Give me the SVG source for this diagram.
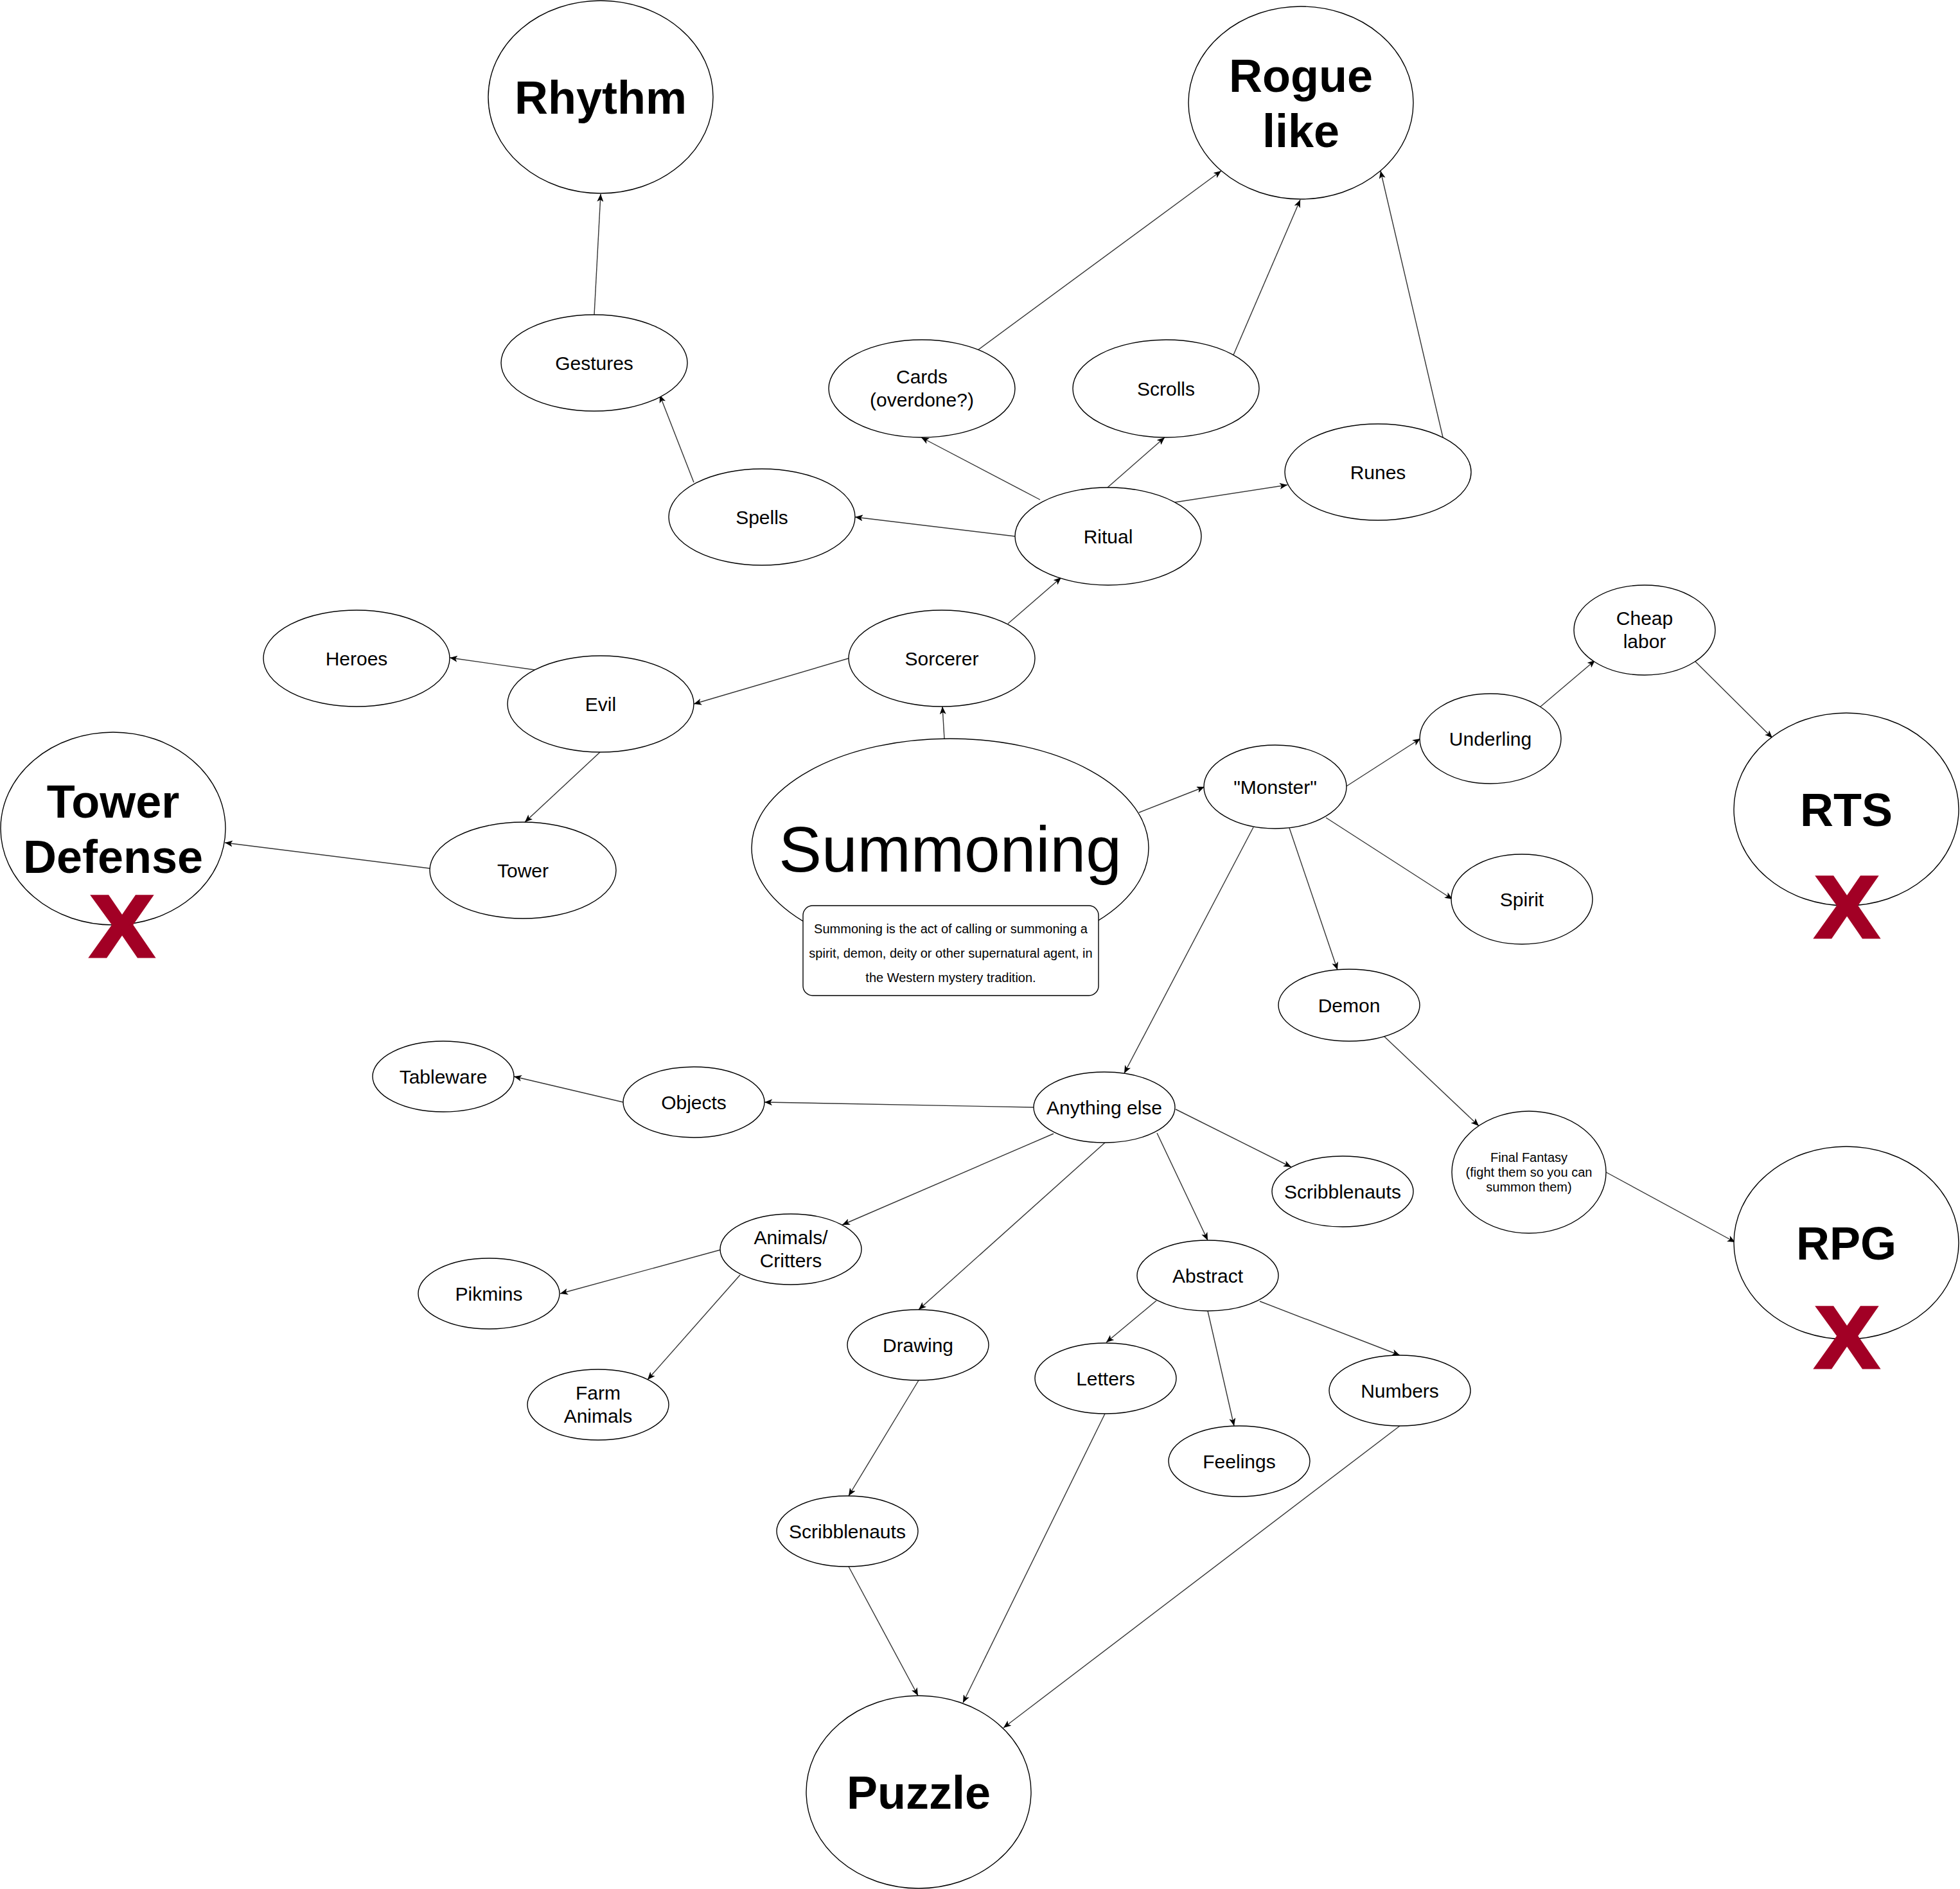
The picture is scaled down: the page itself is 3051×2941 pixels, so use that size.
<svg xmlns="http://www.w3.org/2000/svg" width="3051" height="2941" viewBox="0 0 3051 2941">
<style>
  .n { fill: #ffffff; stroke: #000000; stroke-width: 1.4; }
  .e { stroke: #333333; stroke-width: 1.4; fill: none; marker-end: url(#arr); }
  text { font-family: "Liberation Sans", Arial, Helvetica, sans-serif; fill: #000000; text-anchor: middle; }
  .t30 { font-size: 30px; }
  .t20 { font-size: 20px; }
  .big { font-size: 72px; font-weight: bold; }
  .huge { font-size: 100px; }
  .x { font-size: 136px; font-weight: bold; fill: #A20025; stroke: #A20025; stroke-width: 5; }
</style>
<defs>
  <marker id="arr" viewBox="0 0 12 10" refX="12" refY="5" markerWidth="12" markerHeight="10" markerUnits="userSpaceOnUse" orient="auto">
    <path d="M0,0 L12,5 L0,10 L3,5 Z" fill="#000000"/>
  </marker>
</defs>
<rect x="0" y="0" width="3051" height="2941" fill="#ffffff"/>

<g id="connectors">
  <line class="e" x1="925" y1="490" x2="935" y2="302"/>
  <line class="e" x1="1080" y1="751" x2="1027" y2="615"/>
  <line class="e" x1="1580" y1="835" x2="1331" y2="805"/>
  <line class="e" x1="1619" y1="778" x2="1434" y2="681"/>
  <line class="e" x1="1724" y1="759" x2="1813" y2="681"/>
  <line class="e" x1="1829" y1="782" x2="2004" y2="755"/>
  <line class="e" x1="1522" y1="545" x2="1901" y2="266"/>
  <line class="e" x1="1919" y1="555" x2="2024" y2="311"/>
  <line class="e" x1="2247" y1="685" x2="2149" y2="266"/>
  <line class="e" x1="1569" y1="971" x2="1652" y2="899"/>
  <line class="e" x1="1470" y1="1150" x2="1467" y2="1100"/>
  <line class="e" x1="1321" y1="1025" x2="1080" y2="1096"/>
  <line class="e" x1="833" y1="1043" x2="700" y2="1024"/>
  <line class="e" x1="934" y1="1171" x2="817" y2="1280"/>
  <line class="e" x1="669" y1="1352" x2="350" y2="1312"/>
  <line class="e" x1="1773" y1="1265" x2="1875" y2="1225"/>
  <line class="e" x1="2096" y1="1224" x2="2211" y2="1150"/>
  <line class="e" x1="2397" y1="1101" x2="2483" y2="1028"/>
  <line class="e" x1="2639" y1="1030" x2="2759" y2="1149"/>
  <line class="e" x1="2064" y1="1273" x2="2261" y2="1400"/>
  <line class="e" x1="2007" y1="1289" x2="2082" y2="1510"/>
  <line class="e" x1="1951" y1="1288" x2="1750" y2="1671"/>
  <line class="e" x1="2154" y1="1613" x2="2302" y2="1753"/>
  <line class="e" x1="2500" y1="1825" x2="2701" y2="1934"/>
  <line class="e" x1="1609" y1="1724" x2="1190" y2="1716"/>
  <line class="e" x1="970" y1="1716" x2="800" y2="1676"/>
  <line class="e" x1="1830" y1="1727" x2="2010" y2="1817"/>
  <line class="e" x1="1801" y1="1764" x2="1880" y2="1931"/>
  <line class="e" x1="1640" y1="1765" x2="1311" y2="1907"/>
  <line class="e" x1="1720" y1="1779" x2="1430" y2="2039"/>
  <line class="e" x1="1121" y1="1946" x2="872" y2="2014"/>
  <line class="e" x1="1152" y1="1985" x2="1008" y2="2148"/>
  <line class="e" x1="1800" y1="2025" x2="1722" y2="2090"/>
  <line class="e" x1="1880" y1="2041" x2="1921" y2="2220"/>
  <line class="e" x1="1961" y1="2026" x2="2179" y2="2110"/>
  <line class="e" x1="1430" y1="2149" x2="1321" y2="2329"/>
  <line class="e" x1="1321" y1="2439" x2="1429" y2="2640"/>
  <line class="e" x1="1720" y1="2201" x2="1499" y2="2651"/>
  <line class="e" x1="2179" y1="2220" x2="1562" y2="2690"/>
</g>

<g id="node-rhythm"><ellipse class="n" cx="935" cy="151" rx="175" ry="150"/><text class="big" x="935" y="177">Rhythm</text></g>
<g id="node-roguelike"><ellipse class="n" cx="2025" cy="160" rx="175" ry="150"/><text class="big" x="2025" y="143">Rogue</text><text class="big" x="2025" y="229">like</text></g>
<g id="node-gestures"><ellipse class="n" cx="925" cy="565" rx="145" ry="75"/><text class="t30" x="925" y="576">Gestures</text></g>
<g id="node-cards"><ellipse class="n" cx="1435" cy="605" rx="145" ry="76"/><text class="t30" x="1435" y="597">Cards</text><text class="t30" x="1435" y="633">(overdone?)</text></g>
<g id="node-scrolls"><ellipse class="n" cx="1815" cy="605" rx="145" ry="76"/><text class="t30" x="1815" y="616">Scrolls</text></g>
<g id="node-runes"><ellipse class="n" cx="2145" cy="735" rx="145" ry="75"/><text class="t30" x="2145" y="746">Runes</text></g>
<g id="node-spells"><ellipse class="n" cx="1186" cy="805" rx="145" ry="75"/><text class="t30" x="1186" y="816">Spells</text></g>
<g id="node-ritual"><ellipse class="n" cx="1725" cy="835" rx="145" ry="76"/><text class="t30" x="1725" y="846">Ritual</text></g>
<g id="node-sorcerer"><ellipse class="n" cx="1466" cy="1025" rx="145" ry="75"/><text class="t30" x="1466" y="1036">Sorcerer</text></g>
<g id="node-heroes"><ellipse class="n" cx="555" cy="1025" rx="145" ry="75"/><text class="t30" x="555" y="1036">Heroes</text></g>
<g id="node-evil"><ellipse class="n" cx="935" cy="1096" rx="145" ry="75"/><text class="t30" x="935" y="1107">Evil</text></g>
<g id="node-tower"><ellipse class="n" cx="814" cy="1355" rx="145" ry="75"/><text class="t30" x="814" y="1366">Tower</text></g>
<g id="node-towerdefense"><ellipse class="n" cx="176" cy="1290" rx="175" ry="150"/><text class="big" x="176" y="1273">Tower</text><text class="big" x="176" y="1359">Defense</text><text class="x" x="190" y="1489" textLength="98" lengthAdjust="spacingAndGlyphs">X</text></g>
<g id="node-summoning"><ellipse class="n" cx="1479" cy="1320" rx="309" ry="170"/><text class="huge" x="1479" y="1357">Summoning</text>
  <rect class="n" x="1250" y="1410" width="460" height="140" rx="15" ry="15"/>
  <text class="t20" x="1480" y="1453">Summoning is the act of calling or summoning a</text>
  <text class="t20" x="1480" y="1491">spirit, demon, deity or other supernatural agent, in</text>
  <text class="t20" x="1480" y="1529">the Western mystery tradition.</text>
</g>
<g id="node-monster"><ellipse class="n" cx="1985" cy="1225" rx="111" ry="65"/><text class="t30" x="1985" y="1236">"Monster"</text></g>
<g id="node-underling"><ellipse class="n" cx="2320" cy="1150" rx="110" ry="70"/><text class="t30" x="2320" y="1161">Underling</text></g>
<g id="node-cheaplabor"><ellipse class="n" cx="2560" cy="981" rx="110" ry="70"/><text class="t30" x="2560" y="973">Cheap</text><text class="t30" x="2560" y="1009">labor</text></g>
<g id="node-rts"><ellipse class="n" cx="2874" cy="1260" rx="175" ry="150"/><text class="big" x="2874" y="1286">RTS</text><text class="x" x="2875" y="1459" textLength="98" lengthAdjust="spacingAndGlyphs">X</text></g>
<g id="node-spirit"><ellipse class="n" cx="2369" cy="1400" rx="110" ry="70"/><text class="t30" x="2369" y="1411">Spirit</text></g>
<g id="node-demon"><ellipse class="n" cx="2100" cy="1565" rx="110" ry="56"/><text class="t30" x="2100" y="1576">Demon</text></g>
<g id="node-finalfantasy"><ellipse class="n" cx="2380" cy="1825" rx="120" ry="95"/><text class="t20" x="2380" y="1809">Final Fantasy</text><text class="t20" x="2380" y="1832">(fight them so you can</text><text class="t20" x="2380" y="1855">summon them)</text></g>
<g id="node-rpg"><ellipse class="n" cx="2874" cy="1935" rx="175" ry="150"/><text class="big" x="2874" y="1961">RPG</text><text class="x" x="2875" y="2129" textLength="98" lengthAdjust="spacingAndGlyphs">X</text></g>
<g id="node-anythingelse"><ellipse class="n" cx="1719" cy="1724" rx="110" ry="55"/><text class="t30" x="1719" y="1735">Anything else</text></g>
<g id="node-objects"><ellipse class="n" cx="1080" cy="1716" rx="110" ry="55"/><text class="t30" x="1080" y="1727">Objects</text></g>
<g id="node-tableware"><ellipse class="n" cx="690" cy="1676" rx="110" ry="55"/><text class="t30" x="690" y="1687">Tableware</text></g>
<g id="node-scribblenauts-right"><ellipse class="n" cx="2090" cy="1855" rx="110" ry="55"/><text class="t30" x="2090" y="1866">Scribblenauts</text></g>
<g id="node-animals"><ellipse class="n" cx="1231" cy="1945" rx="110" ry="55"/><text class="t30" x="1231" y="1937">Animals/</text><text class="t30" x="1231" y="1973">Critters</text></g>
<g id="node-pikmins"><ellipse class="n" cx="761" cy="2014" rx="110" ry="55"/><text class="t30" x="761" y="2025">Pikmins</text></g>
<g id="node-farmanimals"><ellipse class="n" cx="931" cy="2187" rx="110" ry="55"/><text class="t30" x="931" y="2179">Farm</text><text class="t30" x="931" y="2215">Animals</text></g>
<g id="node-abstract"><ellipse class="n" cx="1880" cy="1986" rx="110" ry="55"/><text class="t30" x="1880" y="1997">Abstract</text></g>
<g id="node-drawing"><ellipse class="n" cx="1429" cy="2094" rx="110" ry="55"/><text class="t30" x="1429" y="2105">Drawing</text></g>
<g id="node-letters"><ellipse class="n" cx="1721" cy="2146" rx="110" ry="55"/><text class="t30" x="1721" y="2157">Letters</text></g>
<g id="node-numbers"><ellipse class="n" cx="2179" cy="2165" rx="110" ry="55"/><text class="t30" x="2179" y="2176">Numbers</text></g>
<g id="node-feelings"><ellipse class="n" cx="1929" cy="2275" rx="110" ry="55"/><text class="t30" x="1929" y="2286">Feelings</text></g>
<g id="node-scribblenauts-bottom"><ellipse class="n" cx="1319" cy="2384" rx="110" ry="55"/><text class="t30" x="1319" y="2395">Scribblenauts</text></g>
<g id="node-puzzle"><ellipse class="n" cx="1430" cy="2790" rx="175" ry="150"/><text class="big" x="1430" y="2816">Puzzle</text></g>
</svg>
